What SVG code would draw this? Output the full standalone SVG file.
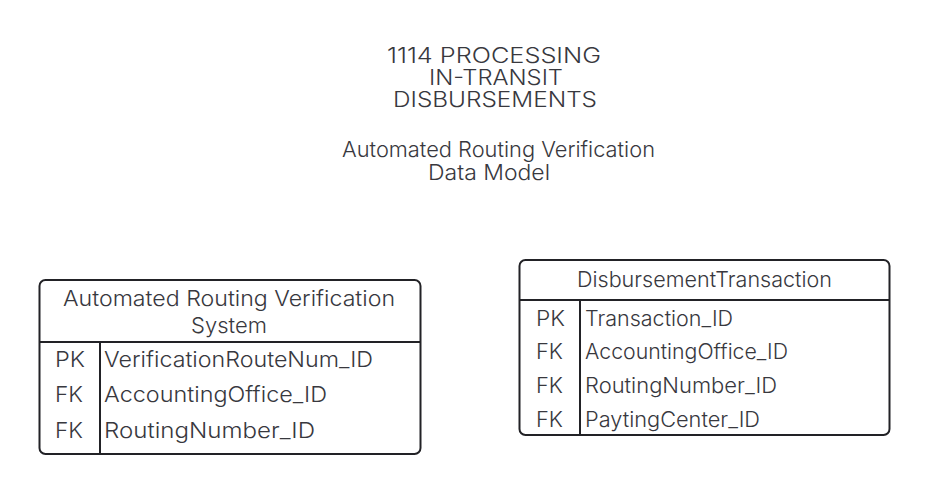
<svg xmlns="http://www.w3.org/2000/svg" width="928" height="494" viewBox="0 0 928 494">
  <style>
    text { font-family: "Inter", "Liberation Sans", sans-serif; font-weight: 300; fill: #38383e; }
    .title { font-size: 21px; text-anchor: middle; }
    .sub { font-size: 22px; text-anchor: middle; }
    .hdr { font-size: 22px; text-anchor: middle; }
    .key { font-size: 22px; }
    .fld { font-size: 22px; }
    .key2 { font-size: 21px; }
    .fld2 { font-size: 21px; }
    .box { fill: #ffffff; stroke: #222226; stroke-width: 2; }
    .rule { stroke: #222226; stroke-width: 2; fill: none; }
  </style>
  <rect width="928" height="494" fill="#ffffff"/>

  <!-- title block -->
  <g id="title">
    <text class="title" x="494" y="62.5" textLength="214" lengthAdjust="spacingAndGlyphs">1114 PROCESSING</text>
    <text class="title" x="496" y="85" textLength="134" lengthAdjust="spacingAndGlyphs">IN-TRANSIT</text>
    <text class="title" x="495" y="106.5" textLength="204" lengthAdjust="spacingAndGlyphs">DISBURSEMENTS</text>
    <text class="sub" x="498.5" y="157" textLength="313" lengthAdjust="spacingAndGlyphs">Automated Routing Verification</text>
    <text class="sub" x="489" y="180" textLength="122" lengthAdjust="spacingAndGlyphs">Data Model</text>
  </g>

  <!-- entity: Automated Routing Verification System -->
  <g id="arv-system">
    <rect class="box" x="39.5" y="280" width="381" height="174" rx="6"/>
    <line class="rule" x1="39.5" y1="342" x2="420.5" y2="342"/>
    <line class="rule" x1="100" y1="342" x2="100" y2="454"/>
    <text class="hdr" x="229" y="306" textLength="332" lengthAdjust="spacingAndGlyphs">Automated Routing Verification</text>
    <text class="hdr" x="229" y="333">System</text>
    <text class="key" x="55" y="367" textLength="30" lengthAdjust="spacingAndGlyphs">PK</text>
    <text class="fld" x="104" y="367" textLength="269" lengthAdjust="spacingAndGlyphs">VerificationRouteNum_ID</text>
    <text class="key" x="55" y="402" textLength="28" lengthAdjust="spacingAndGlyphs">FK</text>
    <text class="fld" x="104" y="402" textLength="223" lengthAdjust="spacingAndGlyphs">AccountingOffice_ID</text>
    <text class="key" x="55" y="438" textLength="28" lengthAdjust="spacingAndGlyphs">FK</text>
    <text class="fld" x="104" y="438" textLength="211" lengthAdjust="spacingAndGlyphs">RoutingNumber_ID</text>
  </g>

  <!-- entity: DisbursementTransaction -->
  <g id="disbursement-transaction">
    <rect class="box" x="519.5" y="260" width="370" height="175" rx="6"/>
    <line class="rule" x1="519.5" y1="300" x2="889.5" y2="300"/>
    <line class="rule" x1="580" y1="300" x2="580" y2="435"/>
    <text class="hdr" x="704.5" y="287" textLength="255" lengthAdjust="spacingAndGlyphs">DisbursementTransaction</text>
    <text class="key2" x="536" y="326" textLength="29" lengthAdjust="spacingAndGlyphs">PK</text>
    <text class="fld2" x="585" y="326" textLength="148" lengthAdjust="spacingAndGlyphs">Transaction_ID</text>
    <text class="key2" x="536" y="359" textLength="27" lengthAdjust="spacingAndGlyphs">FK</text>
    <text class="fld2" x="585" y="359" textLength="203" lengthAdjust="spacingAndGlyphs">AccountingOffice_ID</text>
    <text class="key2" x="536" y="393" textLength="27" lengthAdjust="spacingAndGlyphs">FK</text>
    <text class="fld2" x="585" y="393" textLength="192" lengthAdjust="spacingAndGlyphs">RoutingNumber_ID</text>
    <text class="key2" x="536" y="427" textLength="27" lengthAdjust="spacingAndGlyphs">FK</text>
    <text class="fld2" x="585" y="427" textLength="175" lengthAdjust="spacingAndGlyphs">PaytingCenter_ID</text>
  </g>

  <!-- no relationship lines are drawn between the two entities -->
  <g id="connectors"/>
</svg>
